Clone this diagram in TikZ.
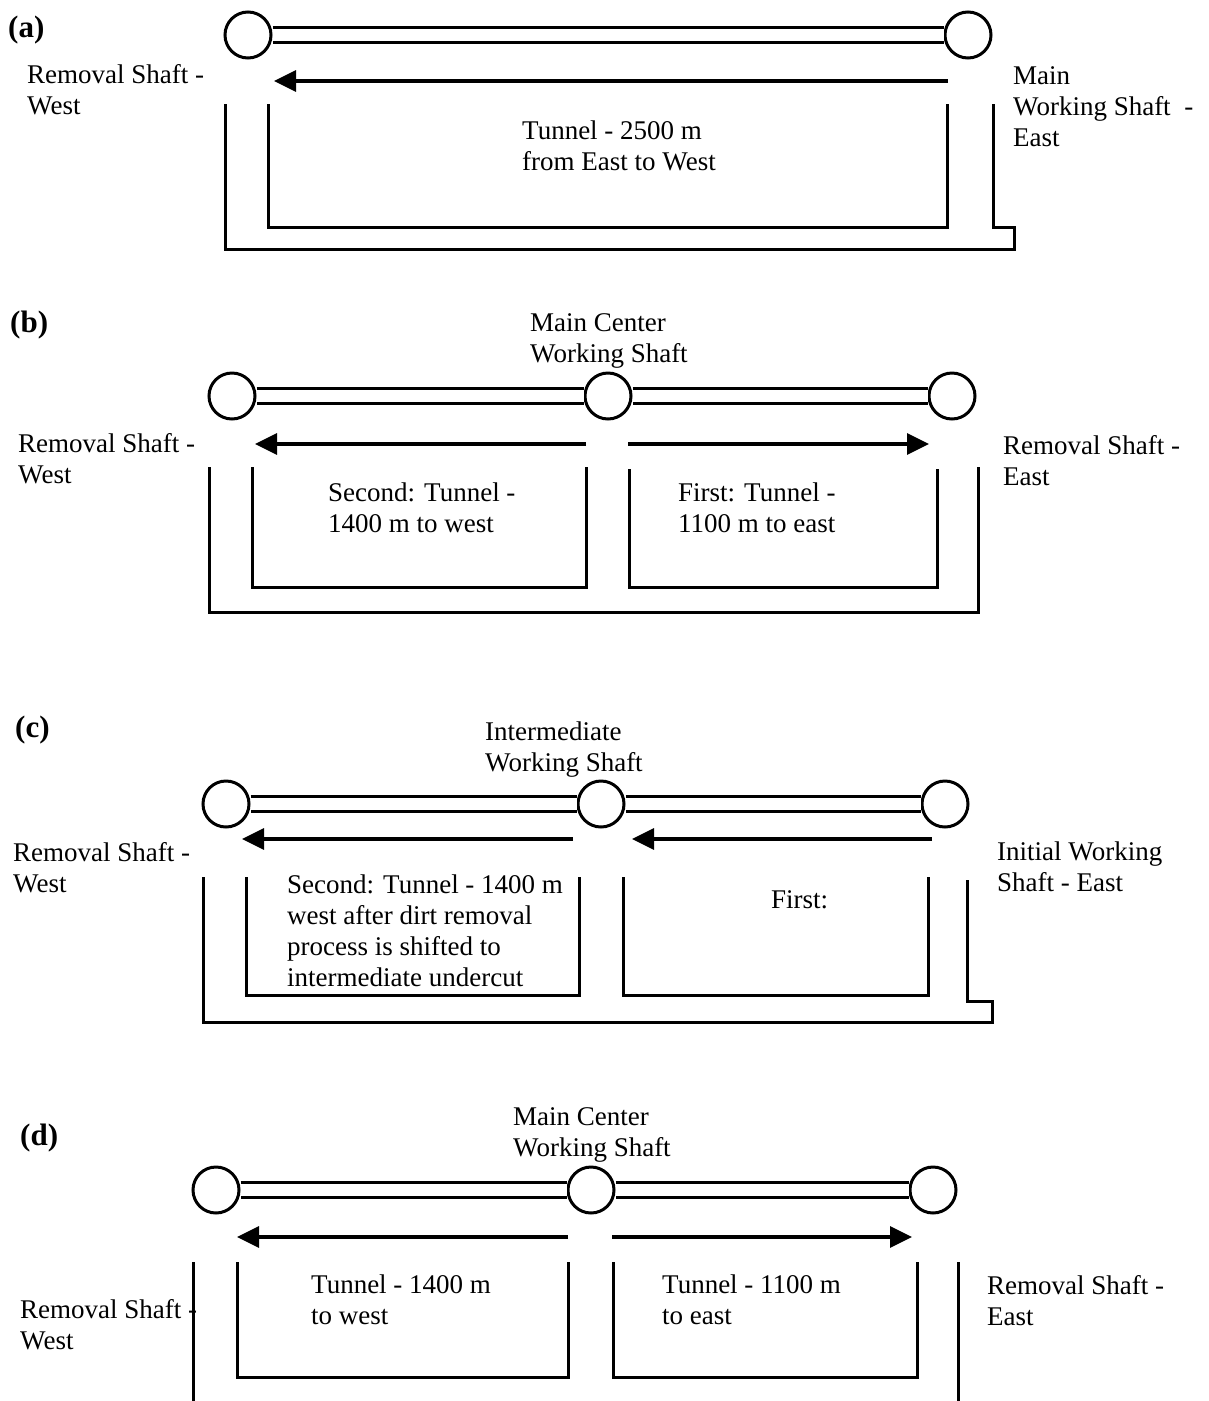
\documentclass[tikz,border=0pt]{standalone}
\usepackage{fontspec}
\setmainfont{Liberation Serif}
\usepackage{xcolor}
\usepackage{tikz}
\usetikzlibrary{arrows.meta}

\begin{document}
\begin{tikzpicture}[x=1pt, y=-1pt,
  shaft/.style={circle, draw, line width=3pt, minimum size=46pt, inner sep=0pt, fill=white},
  pipe/.style={double, line width=3pt, double distance=12pt},
  drive/.style={line width=3.2pt, -{Triangle[length=22pt, width=21pt]}},
  wall/.style={line width=3pt},
  lbl/.style={font=\fontsize{27}{31}\selectfont, align=left, inner sep=0pt, anchor=north west},
  panel/.style={font=\fontsize{31}{34}\selectfont\bfseries, inner sep=0pt, anchor=west}]

\useasboundingbox (0,0) rectangle (1209,1401);

% --- (a): one drive from East to West ---
\node[panel] (a-tag) at (8,30) {(a)};
\foreach \n/\x in {W/248, E/968} \node[shaft] (a\n) at (\x,35) {};
\draw[pipe] (aW) -- (aE);
\coordinate (a-start) at (948,81);
\coordinate (a-end) at (274,81);
\draw[drive] (a-start) -- (a-end);
\draw[wall] (225,104) |- (1014,249) |- (993,227) -- (993,104);
\draw[wall] (268,104) |- (947,227) -- (947,104);
\node[lbl] (a-west) at (27,64) {Removal Shaft -\\West};
\node[lbl] (a-east) at (1013,66) {Main\\Working Shaft\ \ -\\East};
\node[lbl] (a-tunnel) at (522,121) {Tunnel - 2500 m\\from East to West};

% --- (b): drives from the center shaft ---
\node[panel] (b-tag) at (10,325) {(b)};
\foreach \n/\x in {W/232, C/608, E/952} \node[shaft] (b\n) at (\x,396) {};
\draw[pipe] (bW) -- (bC);
\draw[pipe] (bC) -- (bE);
\coordinate (b-start1) at (586,444);
\coordinate (b-end1) at (255,444);
\coordinate (b-start2) at (628,444);
\coordinate (b-end2) at (929,444);
\draw[drive] (b-start1) -- (b-end1);
\draw[drive] (b-start2) -- (b-end2);
\draw[wall] (209,467) |- (978,612) -- (978,467);
\draw[wall] (252,467) |- (586,587) -- (586,467);
\draw[wall] (629,469) |- (937,587) -- (937,469);
\node[lbl] (b-center) at (530,313) {Main Center\\Working Shaft};
\node[lbl] (b-west) at (18,433) {Removal Shaft -\\West};
\node[lbl] (b-east) at (1003,435) {Removal Shaft -\\East};
\node[lbl] (b-second) at (328,483) {Second: Tunnel -\\1400 m to west};
\node[lbl] (b-first) at (678,483) {First: Tunnel -\\1100 m to east};

% --- (c): intermediate shaft ---
\node[panel] (c-tag) at (15,730) {(c)};
\foreach \n/\x in {W/226, C/601, E/945} \node[shaft] (c\n) at (\x,804) {};
\draw[pipe] (cW) -- (cC);
\draw[pipe] (cC) -- (cE);
\coordinate (c-start1) at (573,839);
\coordinate (c-end1) at (242,839);
\coordinate (c-start2) at (932,839);
\coordinate (c-end2) at (632,839);
\draw[drive] (c-start1) -- (c-end1);
\draw[drive] (c-start2) -- (c-end2);
\draw[wall] (203,877) |- (992,1022) |- (967,1001) -- (967,880);
\draw[wall] (246,877) |- (579,995) -- (579,877);
\draw[wall] (623,877) |- (928,995) -- (928,877);
\node[lbl] (c-center) at (485,722) {Intermediate\\Working Shaft};
\node[lbl] (c-west) at (13,842) {Removal Shaft -\\West};
\node[lbl] (c-east) at (997,842) {Initial Working\\Shaft - East};
\node[lbl] (c-second) at (287,875) {Second: Tunnel - 1400 m\\west after dirt removal\\process is shifted to\\intermediate undercut};
\node[lbl] (c-first) at (771,890) {First:};

% --- (d): drives from the center shaft, open ends ---
\node[panel] (d-tag) at (20,1138) {(d)};
\foreach \n/\x in {W/216, C/591, E/933} \node[shaft] (d\n) at (\x,1190) {};
\draw[pipe] (dW) -- (dC);
\draw[pipe] (dC) -- (dE);
\coordinate (d-start1) at (568,1237);
\coordinate (d-end1) at (237,1237);
\coordinate (d-start2) at (612,1237);
\coordinate (d-end2) at (912,1237);
\draw[drive] (d-start1) -- (d-end1);
\draw[drive] (d-start2) -- (d-end2);
\draw[wall] (193,1262) -- (193,1401);
\draw[wall] (237,1262) |- (568,1377) -- (568,1262);
\draw[wall] (613,1262) |- (917,1377) -- (917,1262);
\draw[wall] (958,1262) -- (958,1401);
\node[lbl] (d-center) at (513,1107) {Main Center\\Working Shaft};
\node[lbl] (d-west) at (20,1299) {Removal Shaft -\\West};
\node[lbl] (d-second) at (311,1275) {Tunnel - 1400 m\\to west};
\node[lbl] (d-first) at (662,1275) {Tunnel - 1100 m\\to east};
\node[lbl] (d-east) at (987,1275) {Removal Shaft -\\East};

\end{tikzpicture}
\end{document}
